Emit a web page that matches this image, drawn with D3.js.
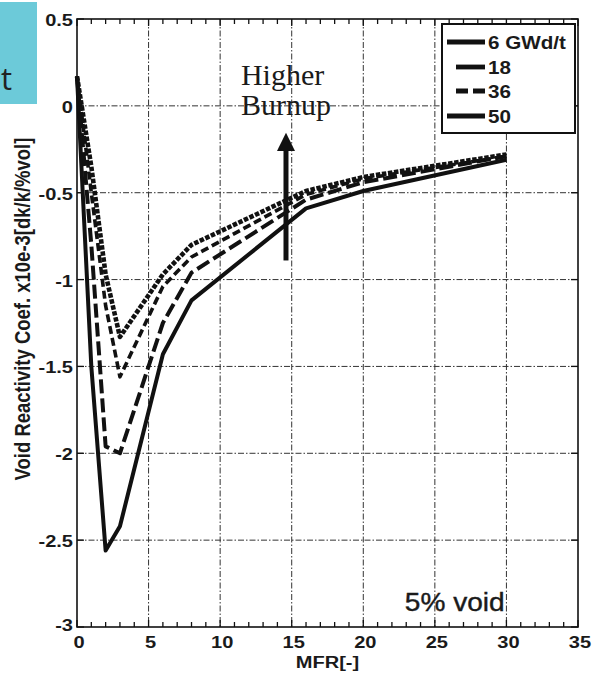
<!DOCTYPE html>
<html><head><meta charset="utf-8">
<script src="https://cdn.jsdelivr.net/npm/d3@7"></script>
<style>body{margin:0;background:#fff;}svg{display:block;}</style>
</head><body>
<svg id="c" width="597" height="675"></svg>
<script>
// ---- data ----
const mfr = [0, 1, 2, 3, 6, 8, 16, 20, 30];
const bu6  = [0.17, -1.50, -2.56, -2.42, -1.43, -1.12, -0.59, -0.49, -0.31];
const bu18 = [0.17, -0.80, -1.96, -2.00, -1.25, -0.96, -0.54, -0.44, -0.29];
const bu36 = [0.17, -0.50, -1.15, -1.56, -1.04, -0.87, -0.51, -0.42, -0.29];
const bu50 = [0.17, -0.35, -0.97, -1.33, -0.97, -0.80, -0.49, -0.41, -0.28];
const seriesNames = ["6 GWd/t", "18", "36", "50"];
const xTicks = [0, 5, 10, 15, 20, 25, 30, 35];
const yTicks = [0.5, 0, -0.5, -1, -1.5, -2, -2.5, -3];
const xLabel = "MFR[-]";
const yLabel = "Void Reactivity Coef. x10e-3[dk/k/%vol]";

const styles = [
  {w: 4.0, dash: null},
  {w: 4.0, dash: "14,5"},
  {w: 3.6, dash: "8,4"},
  {w: 4.6, dash: "4.5,1.6"}
];
const series = [bu6, bu18, bu36, bu50];

const svg = d3.select("#c");
const L = 77, R = 578, T = 19, B = 627;
const x = d3.scaleLinear().domain([0, 35]).range([L, R]);
const y = d3.scaleLinear().domain([-3, 0.5]).range([B, T]);
const SX = 1.18;
const font = "'Liberation Sans', Arial, Helvetica, sans-serif";

// blue tag at top-left
svg.append("rect").attr("x", 0).attr("y", 2).attr("width", 37).attr("height", 102).attr("fill", "#6ccad9");
svg.append("text").attr("x", 1).attr("y", 90).attr("font-family", "'Open Sans', sans-serif")
  .attr("font-size", 31).attr("fill", "#222").text("t");

// grid
const grid = svg.append("g").attr("stroke", "#333").attr("stroke-width", 1).attr("stroke-dasharray", "6,2,1.5,2");
xTicks.filter(v => v > 0 && v < 35).forEach(v => {
  grid.append("line").attr("x1", x(v)).attr("x2", x(v)).attr("y1", T).attr("y2", B);
});
yTicks.filter(v => v < 0.5 && v > -3).forEach(v => {
  grid.append("line").attr("x1", L).attr("x2", R).attr("y1", y(v)).attr("y2", y(v));
});

// axes ticks (inward)
const tk = svg.append("g").attr("stroke", "#111").attr("stroke-width", 1.3);
d3.range(0, 36, 1).forEach(v => {
  const len = v % 5 === 0 ? 7 : 5;
  tk.append("line").attr("x1", x(v)).attr("x2", x(v)).attr("y1", B).attr("y2", B - len);
  tk.append("line").attr("x1", x(v)).attr("x2", x(v)).attr("y1", T).attr("y2", T + len);
});
yTicks.forEach(v => {
  tk.append("line").attr("x1", L).attr("x2", L + 7).attr("y1", y(v)).attr("y2", y(v));
  tk.append("line").attr("x1", R).attr("x2", R - 7).attr("y1", y(v)).attr("y2", y(v));
});

// curves
const line = d3.line().x((d, i) => x(mfr[i])).y(d => y(d));
series.forEach((s, k) => {
  svg.append("path").attr("d", line(s)).attr("fill", "none").attr("stroke", "#111")
    .attr("stroke-width", styles[k].w).attr("stroke-linejoin", "round")
    .attr("stroke-dasharray", styles[k].dash);
});

// frame
svg.append("rect").attr("x", L).attr("y", T).attr("width", R - L).attr("height", B - T)
  .attr("fill", "none").attr("stroke", "#111").attr("stroke-width", 1.6);

// tick labels
function stext(xx, yy, str, size, anchor, sx) {
  return svg.append("text").attr("transform", `translate(${xx},${yy}) scale(${sx || SX},1)`)
    .attr("text-anchor", anchor).attr("font-family", font).attr("font-weight", "bold")
    .attr("font-size", size).attr("fill", "#1a1a1a").text(str);
}
yTicks.forEach(v => {
  stext(L - 4, y(v) + (v === -3 ? 4 : 7), String(v), 17, "end");
});
xTicks.forEach(v => {
  stext(x(v) + 2, B + 21, String(v), 17, "middle");
});
stext((L + R) / 2, 668, xLabel, 17, "middle");

// y label
svg.append("text").attr("transform", `translate(30,309) scale(${SX},1) rotate(-90)`)
  .attr("text-anchor", "middle").attr("font-family", font).attr("font-weight", "bold")
  .attr("font-size", 18.5).attr("fill", "#1a1a1a").text(yLabel);

// legend
const lg = svg.append("g");
lg.append("rect").attr("x", 442).attr("y", 24).attr("width", 133).attr("height", 109)
  .attr("fill", "#fff").attr("stroke", "#111").attr("stroke-width", 2);
const legY = [42, 67, 91, 116];
const legX0 = [447, 456, 456, 447];
series.forEach((s, k) => {
  lg.append("line").attr("x1", legX0[k]).attr("x2", 485).attr("y1", legY[k]).attr("y2", legY[k])
    .attr("stroke", "#111").attr("stroke-width", 4.8)
    .attr("stroke-dasharray", k === 2 ? "12,5" : null);
  stext(488, legY[k] + 7, seriesNames[k], 17.5, "start");
});

// annotation arrow
const ax = x(14.6);
svg.append("line").attr("x1", ax).attr("x2", ax).attr("y1", y(-0.89)).attr("y2", y(-0.25))
  .attr("stroke", "#111").attr("stroke-width", 5);
svg.append("path").attr("d", `M${ax - 9},${y(-0.26)} L${ax},${y(-0.155)} L${ax + 9},${y(-0.26)} Z`).attr("fill", "#111");
const serif = "'Liberation Serif', 'Times New Roman', serif";
svg.append("text").attr("x", x(11.45)).attr("y", 85).attr("font-family", serif)
  .attr("font-size", 30).attr("fill", "#1a1a1a").text("Higher");
svg.append("text").attr("x", x(11.45)).attr("y", 115).attr("font-family", serif)
  .attr("font-size", 30).attr("fill", "#1a1a1a").text("Burnup");

// 5% void
svg.append("text").attr("transform", `translate(${x(22.9)},611) scale(1.08,1)`)
  .attr("font-family", font).attr("font-size", 26).attr("fill", "#1a1a1a")
  .attr("stroke", "#1a1a1a").attr("stroke-width", 0.4).text("5% void");
</script>
</body></html>
